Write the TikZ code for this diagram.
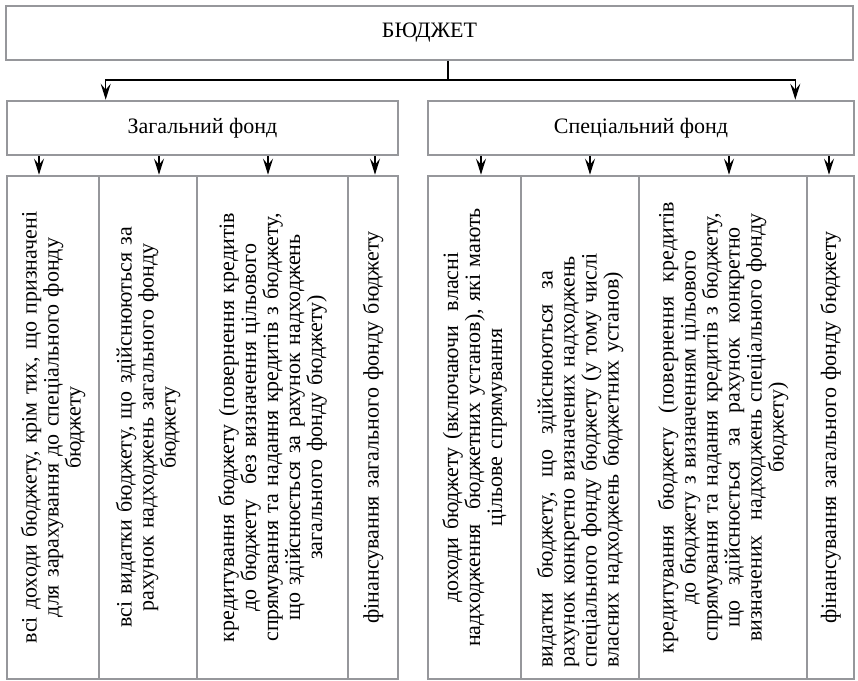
\documentclass[tikz,border=0pt]{standalone}
\usepackage{fontspec}
\setmainfont{Liberation Serif}
\usetikzlibrary{positioning}
\usetikzlibrary{arrows.meta}
\usetikzlibrary{calc}
\definecolor{framegray}{RGB}{150,151,155}
\tikzset{box/.style={ % Sets the properties for each box
      draw=framegray,
      line width=1.3pt,
      inner sep=0pt,
      font=\fontsize{11}{11}\selectfont},
      column/.style={ % Column boxes, text reads bottom to top
      box,
      rotate=90,
      minimum width=251.5pt,
      text width=240pt,
      align=center},
      link/.style={ % Sets the properties for each connector
      draw,
      ->,>={Stealth[length=8pt,width=5pt,inset=3pt]},
      line width=0.7pt}}

\begin{document}
\begin{tikzpicture}[x=0.5pt,y=-0.5pt]
      \useasboundingbox (0,0) rectangle (858,681);
      \node[box, minimum width=423.5pt, minimum height=27pt] (budget) at (429.5,33) {БЮДЖЕТ};
      \node[box, minimum width=195.5pt, minimum height=27pt] (zag) at (202.5,128) {Загальний фонд};
      \node[box, minimum width=213pt, minimum height=27pt] (spec) at (641,128) {Спеціальний фонд};
      % general fund
      \node[column, minimum height=46pt] (zag1) at (53,427.5)
            {всі доходи бюджету, крім тих, що призначені\\ для зарахування до спеціального фонду\\ бюджету};
      \node[column, minimum height=49pt] (zag2) at (148,427.5)
            {всі видатки бюджету, що здійснюються за\\ рахунок надходжень загального фонду\\ бюджету};
      \node[column, minimum height=75.5pt] (zag3) at (272.5,427.5)
            {кредитування бюджету (повернення кредитів\\ до бюджету \ без визначення цільового\\ спрямування та надання кредитів з бюджету,\\ що здійснюється за рахунок надходжень\\ загального фонду бюджету)};
      \node[column, minimum height=25pt] (zag4) at (373,427.5)
            {фінансування загального фонду бюджету};
      % special fund
      \node[column, minimum height=46.5pt] (spec1) at (474.5,427.5)
            {доходи бюджету (включаючи \ власні\\ надходження \ бюджетних установ), які мають\\ цільове спрямування};
      \node[column, minimum height=59pt, align=left] (spec2) at (580,427.5)
            {видатки \ бюджету, \ що \ здійснюються \ за\\ рахунок конкретно визначених надходжень\\ спеціального фонду бюджету (у тому числі\\ власних надходжень бюджетних установ)};
      \node[column, minimum height=84pt] (spec3) at (723,427.5)
            {кредитування \ бюджету \ (повернення \ кредитів\\ до бюджету з визначенням цільового\\ спрямування та надання кредитів з бюджету,\\ що \ здійснюється \ за \ рахунок \ конкретно\\ визначених \ надходжень спеціального фонду\\ бюджету)};
      \node[column, minimum height=23.5pt] (spec4) at (830.5,427.5)
            {фінансування загального фонду бюджету};
      % connectors
      \coordinate (fork) at (448,80);
      \draw[line width=0.7pt] (budget.south -| fork) -- (fork);
      \draw[link] (fork) -| ($(zag.north west)+(100,0)$);
      \draw[link] (fork) -| ($(spec.north east)+(-60,0)$);
      \foreach \c/\dx in {zag1/-14,zag2/11,zag3/-4.5,zag4/2} {
            \coordinate (tip) at ($(\c.east)+(\dx,0)$);
            \draw[link] (tip |- zag.south) -- (tip);
      }
      \foreach \c/\dx in {spec1/6.5,spec2/10,spec3/6,spec4/-1.5} {
            \coordinate (tip) at ($(\c.east)+(\dx,0)$);
            \draw[link] (tip |- spec.south) -- (tip);
      }
\end{tikzpicture}
\end{document}
